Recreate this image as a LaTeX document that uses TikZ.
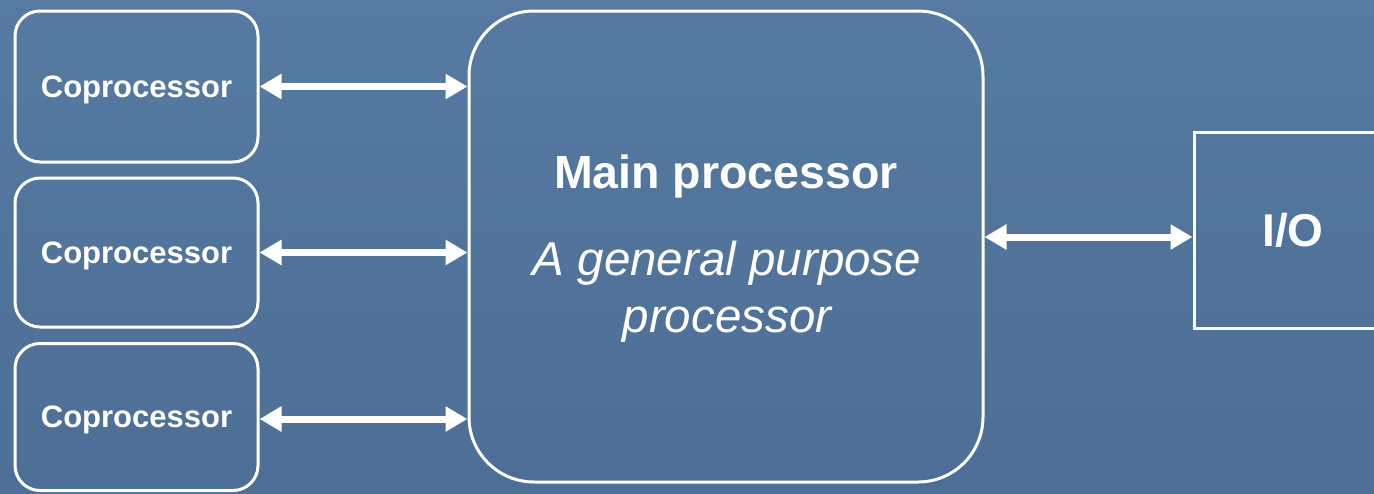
\documentclass[tikz,border=0pt]{standalone}
\usepackage{fontspec}
\setmainfont{Liberation Sans}
\usetikzlibrary{arrows.meta}

\definecolor{bgtop}{RGB}{86,122,161}
\definecolor{bgbot}{RGB}{77,110,150}

\tikzset{
  copro/.style={draw=white, line width=3pt, rounded corners=25pt,
    minimum width=243pt, text=white, text depth=0pt,
    font=\fontsize{31}{37}\selectfont\bfseries},
  mainbox/.style={draw=white, line width=3pt, rounded corners=65pt,
    minimum width=514pt, minimum height=471pt},
  iobox/.style={draw=white, line width=3pt, minimum width=198pt,
    minimum height=196pt, text=white,
    font=\fontsize{46}{55}\selectfont\bfseries},
  titletext/.style={text=white, anchor=base, inner sep=0pt,
    font=\fontsize{46.5}{56}\selectfont\bfseries},
  desctext/.style={text=white, anchor=base, inner sep=0pt,
    font=\fontsize{47.5}{57}\selectfont\itshape},
  link/.style={white, line width=7pt,
    {Triangle[length=22pt,width=24pt]}-{Triangle[length=22pt,width=24pt]}}
}

\begin{document}
\begin{tikzpicture}[x=1pt,y=-1pt]
  \useasboundingbox (0,0) rectangle (1374,493);
  \clip (0,0) rectangle (1374,493);
  \shade[top color=bgtop, bottom color=bgbot] (0,0) rectangle (1374,493);

  % coprocessors on the left
  \node[copro, minimum height=151pt] (c1) at (136.5,86.5) {Coprocessor};
  \node[copro, minimum height=149pt] (c2) at (136.5,252.5) {Coprocessor};
  \node[copro, minimum height=147pt] (c3) at (136.5,417) {Coprocessor};

  % main processor
  \node[mainbox] (main) at (726,246.5) {};
  \node[titletext] (mtitle) at ([yshift=58.5pt]main.center) {Main processor};
  \node[desctext] (mdesc1) at ([xshift=1pt,yshift=-28.5pt]main.center) {A general purpose};
  \node[desctext] (mdesc2) at ([xshift=1pt,yshift=-85.5pt]main.center) {processor};

  % I/O block, running off the right edge
  \node[iobox] (io) at (1293,230) {I/O};

  % links
  \draw[link] (c1.east) -- (c1.east -| main.west);
  \draw[link] (c2.east) -- (c2.east -| main.west);
  \draw[link] ([yshift=-2pt]c3.east) -- ([yshift=-2pt]c3.east -| main.west);
  \coordinate (mio) at ([yshift=9.5pt]main.east);
  \draw[link] (mio) -- (mio -| io.west);
\end{tikzpicture}
\end{document}
